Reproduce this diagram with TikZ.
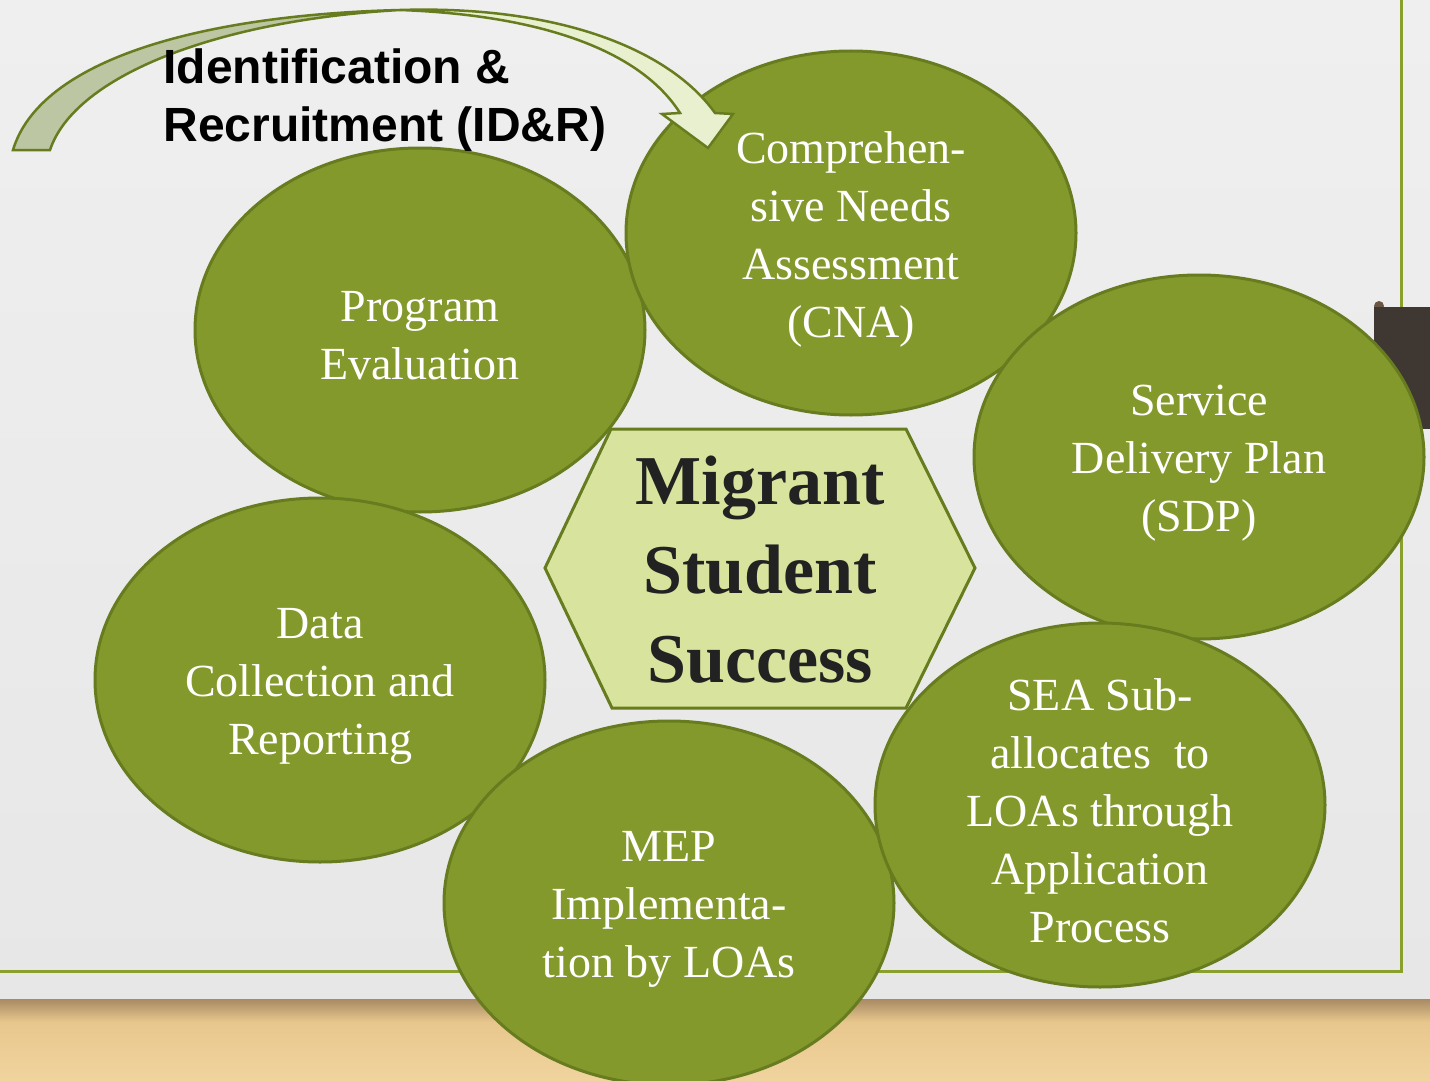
\documentclass[tikz,border=0pt]{standalone}
\usepackage{fontspec}
\setmainfont{Liberation Serif}
\newfontfamily\idrfont{Liberation Sans}
\usetikzlibrary{shapes.geometric}
\definecolor{paper}{HTML}{EFEFEF}
\definecolor{paperlow}{HTML}{E7E7E7}
\definecolor{woodshadow}{HTML}{A88A64}
\definecolor{woodtop}{HTML}{E8C78D}
\definecolor{woodlow}{HTML}{F0D49E}
\definecolor{frameline}{HTML}{8AA02C}
\definecolor{blockbrown}{HTML}{3F3731}
\definecolor{tabbrown}{HTML}{6B5643}
\definecolor{stagegreen}{HTML}{84992C}
\definecolor{stageline}{HTML}{677B1F}
\definecolor{hubfill}{HTML}{D8E49D}
\definecolor{hubtext}{HTML}{222222}
\definecolor{arrowback}{HTML}{BCC6A2}
\definecolor{arrowfront}{HTML}{E9F0CF}
\tikzset{stage/.style = {ellipse, draw=stageline, fill=stagegreen, line width=3pt,
                         minimum width=450pt, minimum height=364pt, inner sep=0}}
\tikzset{stagetext/.style = {yshift=-6pt, text=white, align=center,
                             font=\fontsize{46}{58}\selectfont}}
\tikzset{hub/.style = {align=center, text=hubtext, font=\fontsize{70}{89}\selectfont\bfseries}}
\tikzset{arcband/.style = {draw=stageline, line width=2.5pt}}

\begin{document}
\begin{tikzpicture}[x=1pt, y=-1pt]
      \useasboundingbox (0, 0) rectangle (1430, 1081);
      \shade [top color=paper, bottom color=paperlow] (0, 0) rectangle (1430, 1000);
      \shade [top color=woodshadow, bottom color=woodtop] (0, 999) rectangle (1430, 1022);
      \shade [top color=woodtop, bottom color=woodlow] (0, 1022) rectangle (1430, 1081);
      \draw [frameline, line width=3pt] (0, 971) -- (1401, 971) -- (1401, 0);
      \fill [tabbrown] (1379, 306) circle (5);
      \fill [blockbrown] (1374, 307) rectangle (1430, 429);

      \node [stage] (eval) at (420, 330) {};
      \node [stage] (cna) at (851, 233) {};
      \node [stage] (sdp) at (1199, 457) {};
      \node [stage] (data) at (320, 680) {};
      \node [stage] (mep) at (669, 903) {};
      \node [stage] (sea) at (1100, 805) {};

      \node [stagetext] (evaltext) at (eval) {Program\\Evaluation};
      \node [stagetext] (cnatext) at (cna) {Comprehen-\\sive Needs\\Assessment\\(CNA)};
      \node [stagetext] (sdptext) at (sdp) {Service\\Delivery Plan\\(SDP)};
      \node [stagetext] (datatext) at (data) {Data\\Collection and\\Reporting};
      \node [stagetext] (meptext) at (mep) {MEP\\Implementa-\\tion by LOAs};
      \node [stagetext] (seatext) at (sea) {SEA Sub-\\allocates \ to\\LOAs through\\Application\\Process};

      \filldraw [fill=hubfill, draw=stageline, line width=3pt]
        (545, 568) -- (611, 429) -- (906, 429) -- (975, 568) -- (906, 708) -- (612, 708) -- cycle;
      \node [hub] (hub) at (760, 570) {Migrant\\Student\\Success};

      \coordinate (pinch) at (400, 10);
      \filldraw [arcband, fill=arrowback] (13, 150) .. controls (40, 60) and (200, 15) .. (pinch)
        .. controls (220, 20) and (75, 75) .. (50, 150) -- cycle;
      \filldraw [arcband, fill=arrowfront] (pinch) .. controls (560, 5) and (670, 50) .. (715, 113)
        -- (733, 114) -- (708, 148) -- (662, 114) -- (680, 113)
        .. controls (640, 50) and (540, 15) .. (pinch) -- cycle;

      \node [anchor=west, align=left, font=\idrfont\fontsize{48}{58}\selectfont\bfseries] (idr) at (160, 100)
        {Identification \&\\Recruitment (ID\&R)};
    \end{tikzpicture}
\end{document}
